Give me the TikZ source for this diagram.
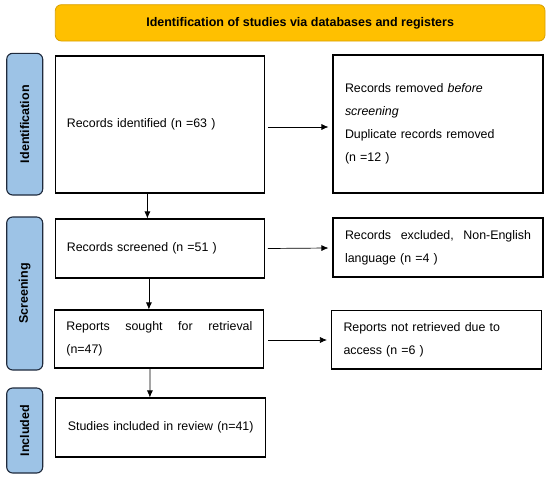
\documentclass[tikz,border=0pt]{standalone}
\usepackage{fontspec}
\setmainfont{Liberation Sans}
\usetikzlibrary{arrows.meta}
\definecolor{bannerfill}{HTML}{FFC000}
\definecolor{bannerdraw}{HTML}{D9A000}
\definecolor{sidefill}{HTML}{9DC3E6}
\definecolor{sidedraw}{HTML}{1F2A3C}
\tikzset{
  box/.style={draw=black, line width=1.1pt, fill=white, rectangle, align=left,
    inner xsep=11.5pt, inner ysep=0pt, text width=186pt,
    font=\fontsize{12.4}{23}\selectfont},
  side/.style={draw=sidedraw, line width=1.1pt, fill=sidefill, rounded corners=6pt,
    minimum width=36pt, rotate=90, font=\fontsize{12.5}{15}\selectfont\bfseries},
  banner/.style={draw=bannerdraw, line width=0.8pt, fill=bannerfill, rounded corners=6pt,
    minimum width=489.7pt, minimum height=36.3pt, font=\fontsize{12.5}{15}\selectfont\bfseries},
  arr/.style={-{Latex[length=7pt,width=6pt]}, line width=0.7pt, draw=black}
}
\begin{document}
\begin{tikzpicture}[x=1pt,y=-1pt]
\useasboundingbox (0,0) rectangle (550,482);
% banner
\node[banner] (ban) at (300.15,22.85) {Identification of studies via databases and registers};
% side labels
\node[side, minimum height=36pt, minimum width=141.7pt] (sid) at (24.7,124.15) {Identification};
\node[side, minimum height=36pt, minimum width=153pt] (sscr) at (24.7,293.5) {Screening};
\node[side, minimum height=36pt, minimum width=85pt] (sinc) at (24.7,430.5) {Included};
% main column
\node[box, minimum height=137pt] (ident) at (159.9,124.5) {Records identified (n =63 )};
\node[box, minimum height=59pt] (screen) at (159.9,248.5) {Records screened (n =51 )};
\node[box, minimum height=58pt] (reports) at (159.4,339) {\hbox to 186pt{Reports\hfill sought\hfill for\hfill retrieval}\\(n=47)};
\node[box, minimum height=59pt, inner xsep=12pt] (studies) at (160.8,427.5) {\mbox{Studies included in review (n=41)}};
% right column
\node[box, inner xsep=12pt, minimum height=138pt] (removed) at (438,124) {Records removed \emph{before}\\\emph{screening}\\Duplicate records removed\\(n =12 )};
\node[box, inner xsep=12pt, minimum height=59pt] (excluded) at (438,247.5) {\hbox to 186pt{Records\hfill excluded,\hfill Non-English}\\language (n =4 )};
\node[box, inner xsep=12pt, minimum height=58.3pt] (notret) at (436.5,339.85) {Reports not retrieved due to\\access (n =6 )};
% arrows
\draw[arr] ([xshift=3pt,yshift=-2.5pt]ident.east) -- ([xshift=-4pt,yshift=-3pt]removed.west);
\draw[arr] ([xshift=3pt]screen.east) -- ([xshift=-4pt,yshift=-0.5pt]excluded.west);
\draw[arr] ([xshift=4pt,yshift=-1pt]reports.east) -- ([xshift=-4pt,yshift=-0.15pt]notret.west);
\draw[arr] ([xshift=-12.5pt]ident.south) -- ([xshift=-12.5pt]screen.north);
\draw[arr] ([xshift=-11pt]screen.south) -- ([xshift=-10.5pt]reports.north);
\draw[arr] ([xshift=-9.5pt]reports.south) -- ([xshift=-10.9pt]studies.north);
\end{tikzpicture}
\end{document}
